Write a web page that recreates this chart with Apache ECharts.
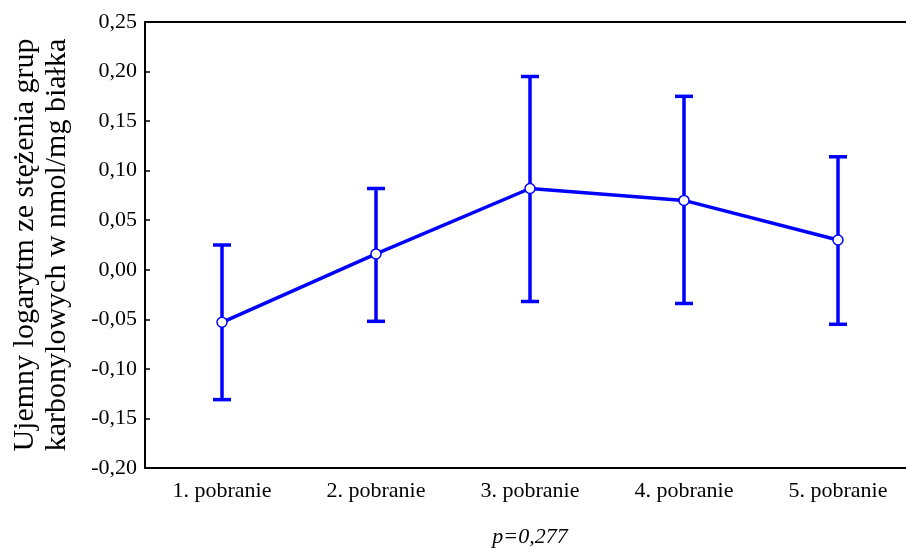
<!DOCTYPE html>
<html><head><meta charset="utf-8">
<script src="https://cdn.jsdelivr.net/npm/echarts@6/dist/echarts.min.js"></script>
<style>html,body{margin:0;padding:0;background:#fff}#c{width:906px;height:548px}</style>
</head><body><div id="c"></div>
<script>
const categories = ['1. pobranie','2. pobranie','3. pobranie','4. pobranie','5. pobranie'];
const means = [-0.053, 0.016, 0.082, 0.070, 0.030];
const upper = [0.025, 0.082, 0.195, 0.175, 0.114];
const lower = [-0.131, -0.052, -0.032, -0.034, -0.055];
const yTicks = {min: -0.20, max: 0.25, interval: 0.05};

const chart = echarts.init(document.getElementById('c'));
const font = 'Liberation Serif';
const blue = '#0000ff';
chart.setOption({
  animation: false,
  grid: {left: 145, top: 22, width: 770, height: 446, containLabel: false, outerBoundsMode: 'none'},
  xAxis: [{
    type: 'category', data: categories, position: 'bottom',
    axisLine: {onZero: false, lineStyle: {color: '#000', width: 2}},
    axisTick: {inside: true, alignWithLabel: true, length: 5, lineStyle: {color: '#000', width: 1.5}},
    axisLabel: {fontFamily: font, fontSize: 22, color: '#000', margin: 12},
    name: 'p=0,277', nameLocation: 'middle', nameGap: 58,
    nameTextStyle: {fontFamily: font, fontSize: 22, fontStyle: 'italic', color: '#000'},
    splitLine: {show: false}
  },{
    type: 'category', data: categories, position: 'top',
    axisLine: {onZero: false, lineStyle: {color: '#000', width: 2}},
    axisTick: {inside: true, alignWithLabel: true, length: 5, lineStyle: {color: '#000', width: 1.5}},
    axisLabel: {show: false}, splitLine: {show: false}
  }],
  yAxis: {
    type: 'value', min: yTicks.min, max: yTicks.max, interval: yTicks.interval,
    axisLine: {show: true, onZero: false, lineStyle: {color: '#000', width: 2}},
    axisTick: {show: true, inside: true, length: 5, lineStyle: {color: '#000', width: 1.5}},
    axisLabel: {fontFamily: font, fontSize: 22, color: '#000', margin: 8,
      formatter: v => v.toFixed(2).replace('.', ',')},
    splitLine: {show: false},
    name: 'Ujemny logarytm ze stężenia grup\nkarbonylowych w nmol/mg białka',
    nameLocation: 'middle', nameGap: 72,
    nameTextStyle: {fontFamily: font, fontSize: 30, color: '#000', lineHeight: 32}
  },
  series: [{
    type: 'custom',
    data: categories.map((c, i) => [i, lower[i], upper[i]]),
    renderItem: function (params, api) {
      const x = api.value(0);
      const lo = api.coord([x, api.value(1)]);
      const hi = api.coord([x, api.value(2)]);
      const hw = 9;
      const st = {stroke: blue, lineWidth: 3.5};
      return {type: 'group', children: [
        {type: 'line', shape: {x1: lo[0], y1: lo[1], x2: hi[0], y2: hi[1]}, style: st},
        {type: 'line', shape: {x1: lo[0]-hw, y1: lo[1], x2: lo[0]+hw, y2: lo[1]}, style: st},
        {type: 'line', shape: {x1: hi[0]-hw, y1: hi[1], x2: hi[0]+hw, y2: hi[1]}, style: st}
      ]};
    },
    z: 2
  },{
    type: 'line', data: means,
    lineStyle: {color: blue, width: 3.5},
    symbol: 'circle', symbolSize: 10,
    itemStyle: {color: '#fff', borderColor: blue, borderWidth: 1.5},
    z: 3
  }]
});
</script></body></html>
